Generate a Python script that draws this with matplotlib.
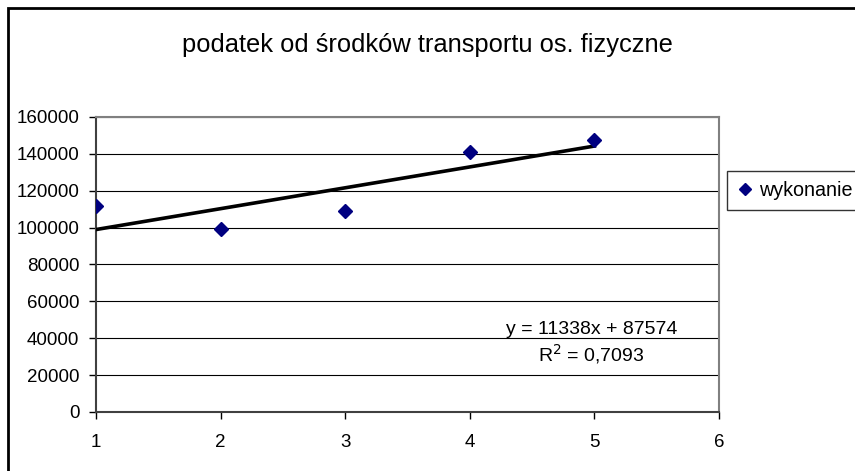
import matplotlib
matplotlib.use("Agg")
import matplotlib.pyplot as plt
import numpy as np
from matplotlib.patches import Rectangle

# Dane
lata = [1, 2, 3, 4, 5]
wykonanie = [111700, 99100, 108800, 141100, 147300]
y_ticks = [0, 20000, 40000, 60000, 80000, 100000, 120000, 140000, 160000]
x_ticks = [1, 2, 3, 4, 5, 6]

plt.rcParams['font.family'] = ['Liberation Sans Narrow', 'Liberation Sans', 'DejaVu Sans']

fig = plt.figure(figsize=(8.55, 4.71), dpi=100)
ax = fig.add_axes([0.1123, 0.1253, 0.7287, 0.6263])

# Linia trendu (regresja liniowa)
a, b = np.polyfit(lata, wykonanie, 1)
xt = np.array([lata[0], lata[-1]])
ax.plot(xt, a * xt + b, color='black', linewidth=2.6, zorder=3)

ax.plot(lata, wykonanie, linestyle='none', marker='D', markersize=7.5,
        color='#000080', label='wykonanie', zorder=4)

ax.set_xlim(1, 6)
ax.set_ylim(0, 160000)
ax.set_xticks(x_ticks)
ax.set_yticks(y_ticks)
ax.tick_params(axis='both', labelsize=13.5, direction='out', length=5, width=1)
ax.tick_params(axis='x', pad=11)
ax.tick_params(axis='y', pad=7)
ax.grid(axis='y', color='black', linewidth=0.8)
ax.set_axisbelow(True)

for s in ['top', 'right']:
    ax.spines[s].set_color('#808080')
    ax.spines[s].set_linewidth(1.5)
for s in ['left', 'bottom']:
    ax.spines[s].set_color('#404040')
    ax.spines[s].set_linewidth(1.5)

ax.text(0.795, 0.278, "y = 11338x + 87574", transform=ax.transAxes,
        ha='center', va='center', fontsize=14, family='Liberation Sans')
ax.text(0.795, 0.196, "R$^2$ = 0,7093", transform=ax.transAxes,
        ha='center', va='center', fontsize=14, family='Liberation Sans')

fig.text(0.5, 0.904, "podatek od środków transportu os. fizyczne",
         ha='center', va='center', fontsize=18.4, family='Liberation Sans')

leg = fig.legend(loc='upper left', bbox_to_anchor=(727 / 855, 1 - 171 / 471),
                 fontsize=14.2, frameon=True, fancybox=False, handletextpad=0.3,
                 handlelength=0.8, borderpad=0.5, borderaxespad=0,
                 markerscale=0.85)
leg.get_frame().set_edgecolor('black')
leg.get_frame().set_linewidth(1)
for t in leg.get_texts():
    t.set_family('Liberation Sans')

# Ramka wykresu
fig.patches.append(Rectangle((8 / 855, -0.1), 1.2, 1 - 8 / 471 + 0.1,
                             transform=fig.transFigure, fill=False,
                             edgecolor='black', linewidth=2))

fig.savefig("out.png", dpi=100)
